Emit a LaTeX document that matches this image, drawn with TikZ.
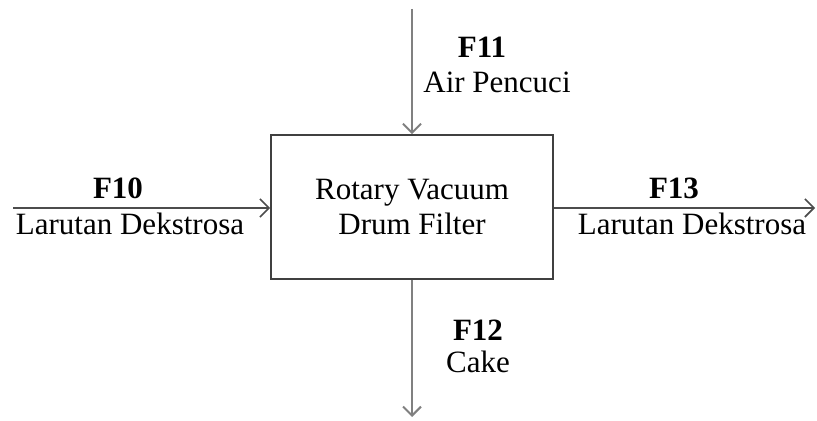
\documentclass[tikz,border=0pt]{standalone}
\usepackage{fontspec}
\setmainfont{Liberation Serif}
\usepackage{tikz}
\usetikzlibrary{arrows.meta,positioning}
\newcommand{\flowfont}{\fontsize{15.5}{14}\selectfont}
\tikzset{
  unitbox/.style={draw=black!75, line width=0.9pt, minimum width=141pt, minimum height=72pt, align=center, inner sep=2pt},
  flowlbl/.style={font=\flowfont\bfseries, inner sep=1pt},
  flowname/.style={inner sep=1pt},
  flow/.style={-{Straight Barb[length=4.5pt,width=9pt]}, black!70, line width=0.8pt},
  flowv/.style={flow, black!50, line width=1pt},
}
\begin{document}
\begin{tikzpicture}[x=0.5pt,y=0.5pt,font=\flowfont]
  \useasboundingbox (0,0) rectangle (817,421);
  % unit
  \node[unitbox] (rvdf) at (412,214) {Rotary Vacuum\\[2pt]Drum Filter};
  % stream ends
  \coordinate (inF10) at (13,213);
  \coordinate (inF11) at (412,412);
  \coordinate (outF12) at (412,4);
  \coordinate (outF13) at (815,213);
  % streams
  \draw[flow] (inF10) -- (inF10 -| rvdf.west);
  \draw[flowv] (inF11) -- (rvdf.north);
  \draw[flowv] (rvdf.south) -- (outF12);
  \draw[flow] (outF13 -| rvdf.east) -- (outF13);
  % labels
  \node[flowlbl] (f10) at (118,233) {F10};
  \node[flowname] (f10n) at (130,197) {Larutan Dekstrosa};
  \node[flowlbl] (f11) at (482,374) {F11};
  \node[flowname] (f11n) at (497,339) {Air Pencuci};
  \node[flowlbl] (f12) at (478,91) {F12};
  \node[flowname] (f12n) at (478,59) {Cake};
  \node[flowlbl] (f13) at (674,233) {F13};
  \node[flowname] (f13n) at (692,197) {Larutan Dekstrosa};
\end{tikzpicture}
\end{document}
